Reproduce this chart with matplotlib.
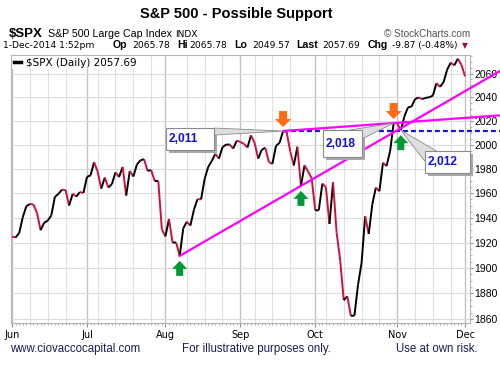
import numpy as np
import pandas as pd
import matplotlib
matplotlib.use("Agg")
import matplotlib.pyplot as plt
import matplotlib.transforms as mtransforms
from matplotlib.collections import LineCollection
from matplotlib.patches import Polygon, Rectangle
from matplotlib.lines import Line2D
from matplotlib.ticker import FixedLocator, NullFormatter

plt.rcParams['font.family'] = ['Liberation Sans', 'DejaVu Sans']

W, H = 500, 365  # output size in pixels

# daily closes, 2-Jun-2014 .. 1-Dec-2014 (trading days only)
spx_close = [
    1924.97, 1924.24, 1927.88, 1940.46, 1949.44, 1951.27, 1950.79, 1943.89, 1930.11, 1936.16,
    1937.78, 1941.99, 1956.98, 1959.48, 1962.87, 1962.61, 1949.98, 1959.53, 1957.22, 1960.96,
    1960.23,
    1973.32, 1974.62, 1985.44, 1977.65, 1963.71, 1972.83, 1964.68, 1967.57, 1977.10, 1973.28,
    1981.57, 1958.12, 1978.22, 1973.63, 1983.53, 1987.01, 1987.98, 1978.34, 1978.91, 1969.95,
    1970.07, 1930.67,
    1925.15, 1938.99, 1920.21, 1920.24, 1909.57, 1931.59, 1936.92, 1933.75, 1946.72, 1955.18,
    1955.06, 1971.74, 1981.60, 1986.51, 1992.37, 1988.40, 1997.92, 2000.02, 2000.12, 1996.74,
    2003.37,
    2002.28, 2000.72, 1997.65, 2007.71, 2001.54, 1988.44, 1995.69, 1997.45, 1985.54, 1984.13,
    1998.98, 2001.57, 2011.36, 2010.40, 1994.29, 1982.77, 1998.30, 1965.99, 1982.85, 1977.80,
    1972.29,
    1946.16, 1946.17, 1967.90, 1964.82, 1935.10, 1968.89, 1928.21, 1906.13, 1874.74, 1877.70,
    1862.49, 1862.76, 1886.76, 1904.01, 1941.28, 1927.11, 1950.82, 1964.58, 1961.63, 1985.05,
    1982.30, 1994.65, 2018.05,
    2017.81, 2012.10, 2023.57, 2031.21, 2031.92, 2038.26, 2039.68, 2038.25, 2039.33, 2039.82,
    2041.32, 2051.80, 2048.72, 2052.75, 2063.50, 2069.41, 2067.03, 2072.83, 2067.56,
    2057.69,
]
holidays = ["2014-07-04", "2014-09-01", "2014-11-27"]
dates = pd.bdate_range("2014-06-02", "2014-12-01")
dates = dates[~dates.isin(pd.to_datetime(holidays))]

y_ticks = [1860, 1880, 1900, 1920, 1940, 1960, 1980, 2000, 2020, 2040, 2060]
month_labels = ["Jun", "Jul", "Aug", "Sep", "Oct", "Nov", "Dec"]

quote = {"Op": "2065.78", "Hi": "2065.78", "Lo": "2049.57", "Chg": "-9.87 (-0.48%)"}

up_arrows = ["2014-08-07", "2014-09-25", "2014-11-04"]
down_arrows = ["2014-09-18", "2014-10-31"]
trend_lines = [("2014-08-07", "2014-09-25"), ("2014-09-18", "2014-10-31")]
support_level = 2011
support_start = "2014-09-18"
# date, label, box (left, bottom, width, height) in px from the point, wedge base points
callouts = [
    ("2014-09-18", "2,011", (-117, -19, 48, 22), [(-69, 3), (-69, -4)]),
    ("2014-10-31", "2,018", (-71, -34, 39, 27), [(-44, -7), (-32, -16)]),
    ("2014-11-04", "2,012", (24, -43, 45, 22), [(24, -31), (36, -21)]),
]

ORANGE = '#ff6a13'
GREEN = '#009933'
MAGENTA = '#ff00ff'
BLUE = '#1010e8'


def idx(d):
    return dates.get_loc(pd.Timestamp(d))


x = np.arange(len(spx_close))
close = np.array(spx_close)

fig = plt.figure(figsize=(W / 100, H / 100), dpi=100)
ax = fig.add_axes([11 / W, 1 - 323 / H, (470 - 11) / W, (323 - 55) / H])
ax.set_yscale('log')
x0, x1 = -0.3, 128.4
ax.set_xlim(x0, x1)
ax.set_ylim(1857, 2076)
x_end = x1 + (x1 - x0) * (500 - 470) / (470 - 11)

# grid
month_start = [i for i in range(len(dates)) if i == 0 or dates[i].month != dates[i - 1].month]
week_start = [i for i in range(1, len(dates)) if dates[i].weekday() < dates[i - 1].weekday()]
for i in week_start:
    if min(abs(i - m) for m in month_start) > 2:
        ax.axvline(i, color='#e0e0e0', lw=0.8, zorder=0)
for m in month_start:
    ax.axvline(m, color='#c2c2c2', lw=1.0, zorder=0)
for t in y_ticks:
    ax.axhline(t, color='#dcdcdc', lw=0.8, zorder=0)

# price line, red on down days
pts = np.column_stack([x, close])
segs = np.stack([pts[:-1], pts[1:]], axis=1)
cols = ['#d0103a' if close[i + 1] < close[i] else 'black' for i in range(len(close) - 1)]
ax.add_collection(LineCollection(segs, colors=cols, linewidths=1.4, zorder=3))

# support level and trend lines
xs = np.array([idx(support_start), x_end])
ax.plot(xs, [support_level, support_level], color=BLUE, lw=1.6, ls=(0, (2.2, 1.4)),
        clip_on=False, zorder=4)
for a, b in trend_lines:
    ia, ib = idx(a), idx(b)
    slope = (np.log(close[ib]) - np.log(close[ia])) / (ib - ia)
    xs = np.array([ia, x_end])
    ax.plot(xs, np.exp(np.log(close[ia]) + slope * (xs - ia)), color=MAGENTA, lw=1.6,
            clip_on=False, zorder=5)


def anchored(i, v):
    return fig.dpi_scale_trans + mtransforms.ScaledTranslation(i, v, ax.transData)


up_shape = [(0, -5), (7.5, -13), (3.5, -13), (3.5, -20), (-3.5, -20), (-3.5, -13), (-7.5, -13)]
down_shape = [(0, 4), (8, 12), (4, 12), (4, 20), (-4, 20), (-4, 12), (-8, 12)]
for d in up_arrows:
    i = idx(d)
    ax.add_patch(Polygon(np.array(up_shape) / 100, closed=True, fc=GREEN, ec='none',
                         transform=anchored(i, close[i]), zorder=6, clip_on=False))
for d in down_arrows:
    i = idx(d)
    ax.add_patch(Polygon(np.array(down_shape) / 100, closed=True, fc=ORANGE, ec='none',
                         transform=anchored(i, close[i]), zorder=6, clip_on=False))

for d, label, (bl, bb, bw, bh), base in callouts:
    i = idx(d)
    tr = anchored(i, close[i])
    ax.add_patch(Rectangle(((bl + 3) / 100, (bb - 3) / 100), bw / 100, bh / 100, fc='#a8a8a8',
                           ec='none', transform=tr, zorder=7, clip_on=False))
    ax.add_patch(Polygon(np.array(base + [(0, 0)]) / 100, closed=True, fc='#dedede',
                         ec='#8a8a8a', lw=0.6, transform=tr, zorder=7, clip_on=False))
    ax.add_patch(Rectangle((bl / 100, bb / 100), bw / 100, bh / 100, fc='white',
                           ec='#8a8a8a', lw=0.8, transform=tr, zorder=8, clip_on=False))
    ax.text((bl + 3) / 100, (bb + bh / 2) / 100, label, transform=tr, ha='left', va='center',
            fontsize=8.6, fontweight='bold', color=BLUE, zorder=9, clip_on=False)

# axes styling
for s in ax.spines.values():
    s.set_color('#b4b4b4')
    s.set_linewidth(0.8)
ax.yaxis.tick_right()
ax.yaxis.set_major_locator(FixedLocator(y_ticks))
ax.yaxis.set_minor_locator(FixedLocator(range(1860, 2076, 5)))
ax.yaxis.set_minor_formatter(NullFormatter())
ax.set_yticklabels([str(t) for t in y_ticks])
ax.tick_params(axis='y', which='major', length=2, color='#909090', labelsize=7.5, pad=1)
ax.tick_params(axis='y', which='minor', length=1.5, color='#a0a0a0')
ax.set_xticks(month_start)
ax.set_xticklabels(month_labels, family='DejaVu Sans', fontsize=7)
ax.xaxis.set_minor_locator(FixedLocator(x))
ax.tick_params(axis='x', which='major', length=3, color='#909090', pad=2)
ax.tick_params(axis='x', which='minor', length=1.5, color='#a0a0a0')

# legend
ax.legend(handles=[Line2D([], [], color='black', lw=2.5)],
          labels=[r"\$SPX (Daily) %.2f" % close[-1]], loc='upper left',
          prop={'family': 'DejaVu Sans', 'size': 7.5}, handlelength=0.7, handletextpad=0.5,
          borderpad=0.15, borderaxespad=0.1, fancybox=False, framealpha=1, edgecolor='none')


def ftext(px, py, s, **kw):
    fig.text(px / W, 1 - py / H, s, va='baseline', **kw)


ftext(236, 18, "S&P 500 - Possible Support", ha='center', fontsize=10.5, fontweight='bold')
ftext(9, 37, r"\$SPX", fontsize=9.5, fontweight='bold')
ftext(48, 37, "S&P 500 Large Cap Index", fontsize=7.7)
ftext(175, 37, "INDX", fontsize=6.5, family='DejaVu Sans')
ftext(470, 37, "\u00a9 StockCharts.com", ha='right', fontsize=7.2, color='#555555')

ftext(3, 48, "1-Dec-2014 1:52pm", fontsize=6.6, family='DejaVu Sans')
row = [("Op", 113, quote["Op"], 132), ("Hi", 177, quote["Hi"], 189),
       ("Lo", 234, quote["Lo"], 252), ("Last", 296, "%.2f" % close[-1], 322),
       ("Chg", 368, quote["Chg"], 392)]
for name, lx, val, vx in row:
    ftext(lx, 48, name, fontsize=7.6, fontweight='bold')
    ftext(vx, 48, val, fontsize=6.6, family='DejaVu Sans')
ftext(462, 48, "\u25bc", fontsize=5.5, color='#a0103a', family='DejaVu Sans')

NAVY = '#1c1f52'
ftext(10, 352, "www.ciovaccocapital.com", fontsize=8.3, color=NAVY)
ftext(256, 352, "For illustrative purposes only.", ha='center', fontsize=8.3, color=NAVY)
ftext(478, 352, "Use at own risk.", ha='right', fontsize=8.3, color=NAVY)

fig.savefig("out.png", dpi=100)
